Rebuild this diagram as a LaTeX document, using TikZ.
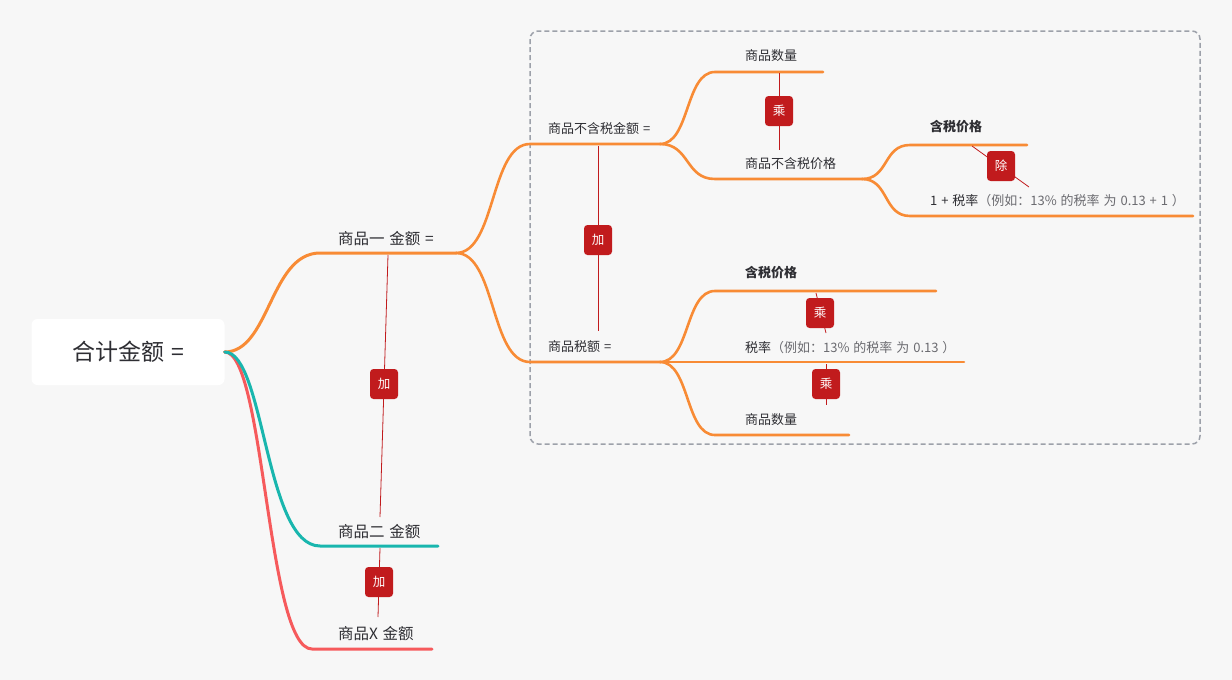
\documentclass[tikz,border=0pt]{standalone}
\usepackage{fontspec}
\setmainfont{Noto Sans CJK SC}
\usetikzlibrary{positioning}

\definecolor{bgcol}{HTML}{F7F7F7}
\definecolor{txtcol}{HTML}{2E2E33}
\definecolor{greycol}{HTML}{6B6B70}
\definecolor{orangecol}{HTML}{F88B35}
\definecolor{tealcol}{HTML}{19B6AE}
\definecolor{redcol}{HTML}{F65A5C}
\definecolor{badgecol}{HTML}{C11B1D}
\definecolor{dashcol}{HTML}{9DA1AA}

\newcommand{\widesp}{\spaceskip=0.3em plus 0.1em\relax}

\tikzset{
  rootbox/.style={fill=white, rounded corners=6pt, minimum width=193pt, minimum height=66pt,
    font=\fontsize{23}{25}\selectfont\widesp, text=txtcol},
  topic/.style={anchor=west, inner sep=0pt, font=\fontsize{15.5}{17}\selectfont\widesp, text=txtcol},
  subtopic/.style={anchor=west, inner sep=0pt, font=\fontsize{13}{15}\selectfont\widesp, text=txtcol},
  boldtopic/.style={subtopic, font=\fontsize{13}{15}\selectfont\bfseries},
  branch/.style={line width=3pt, line cap=round},
  twig/.style={line width=2.6pt, orangecol, line cap=round},
  relline/.style={badgecol, line width=0.8pt},
  badge/.style={fill=badgecol, rounded corners=3.5pt, minimum width=28pt, minimum height=30pt,
    inner sep=0pt, text=white, font=\fontsize{12.5}{14}\selectfont},
}

\begin{document}
\begin{tikzpicture}[x=1pt,y=-1pt]
\useasboundingbox[fill=bgcol] (0,0) rectangle (1232,680);

% group frame
\draw[dashcol, line width=1.5pt, dash pattern=on 5pt off 3pt, rounded corners=8pt] (530,31) rectangle (1200,444);

% root
\node[rootbox] (root) at (128,352) {合计金额 =};

% first level
\coordinate (a1) at (320,253); \coordinate (a1e) at (456,253);
\coordinate (a2) at (320,546); \coordinate (a2e) at (438,546);
\coordinate (a3) at (312,649); \coordinate (a3e) at (432,649);
\draw[branch, orangecol] (root.east) .. controls +(45,0) and +(-50,0) .. (a1) -- (a1e);
\draw[branch, redcol] (root.east) .. controls +(40,0) and +(-45,0) .. (a3) -- (a3e);
\draw[branch, tealcol] (root.east) .. controls +(40,0) and +(-55,0) .. (a2) -- (a2e);

\node[topic] (n1) at (338,239) {商品一 金额 =};
\node[topic] (n2) at (338,532) {商品二 金额};
\node[topic] (n3) at (338,634) {商品X 金额};

% second level
\coordinate (b1) at (530,144); \coordinate (b1e) at (660,144);
\coordinate (b2) at (530,362); \coordinate (b2e) at (660,362);
\draw[twig] (a1e) .. controls +(40,0) and +(-40,0) .. (b1) -- (b1e);
\draw[twig] (a1e) .. controls +(40,0) and +(-40,0) .. (b2) -- (b2e);

\node[subtopic] (m1) at (548,129) {商品不含税金额 =};
\node[subtopic] (m2) at (548,347) {商品税额 =};

% third level
\coordinate (c1) at (715,72);  \coordinate (c1e) at (823,72);
\coordinate (c2) at (715,179); \coordinate (c2e) at (862,179);
\coordinate (c3) at (715,291); \coordinate (c3e) at (936,291);
\coordinate (c4e) at (964,362);
\coordinate (c5) at (715,435); \coordinate (c5e) at (849,435);
\draw[twig] (b1e) .. controls +(30,0) and +(-30,0) .. (c1) -- (c1e);
\draw[twig] (b1e) .. controls +(30,0) and +(-30,0) .. (c2) -- (c2e);
\draw[twig] (b2e) .. controls +(30,0) and +(-30,0) .. (c3) -- (c3e);
\draw[twig] (b2e) -- (c4e);
\draw[twig] (b2e) .. controls +(30,0) and +(-30,0) .. (c5) -- (c5e);

\node[subtopic] (k1) at (745,56) {商品数量};
\node[subtopic] (k2) at (745,164) {商品不含税价格};
\node[boldtopic] (k3) at (745,273) {含税价格};
\node[subtopic] (k4) at (745,348) {税率\textcolor{greycol}{（例如：13\% 的税率 为 0.13 ）}};
\node[subtopic] (k5) at (745,420) {商品数量};

% fourth level
\coordinate (d1) at (910,145); \coordinate (d1e) at (1027,145);
\coordinate (d2) at (910,216); \coordinate (d2e) at (1193,216);
\draw[twig] (c2e) .. controls +(27,0) and +(-27,0) .. (d1) -- (d1e);
\draw[twig] (c2e) .. controls +(27,0) and +(-27,0) .. (d2) -- (d2e);

\node[boldtopic] (q1) at (930,127) {含税价格};
\node[subtopic] (q2) at (930,201) {1 + 税率\textcolor{greycol}{（例如：13\% 的税率 为 0.13 + 1 ）}};

% relations
\coordinate (r1a) at (388,255); \coordinate (r1b) at (380,517);
\coordinate (r2a) at (380,548); \coordinate (r2b) at (378,617);
\coordinate (r3a) at (598,146); \coordinate (r3b) at (598,331);
\coordinate (r4a) at (779,73);  \coordinate (r4b) at (779,150);
\coordinate (r5a) at (972,146); \coordinate (r5b) at (1029,187);
\coordinate (r6a) at (816,293); \coordinate (r6b) at (826,333);
\coordinate (r7a) at (826,364); \coordinate (r7b) at (826,405);
\foreach \r in {r1,r2,r3,r4,r5,r6,r7}
  \draw[relline] (\r a) -- (\r b);

\node[badge] (plus1) at (384,384) {加};
\node[badge] (plus2) at (379,582) {加};
\node[badge] (plus3) at (598,240) {加};
\node[badge] (times1) at (779,111) {乘};
\node[badge] (div1) at (1001,166) {除};
\node[badge] (times2) at (820,313) {乘};
\node[badge] (times3) at (826,384) {乘};

\end{tikzpicture}
\end{document}
